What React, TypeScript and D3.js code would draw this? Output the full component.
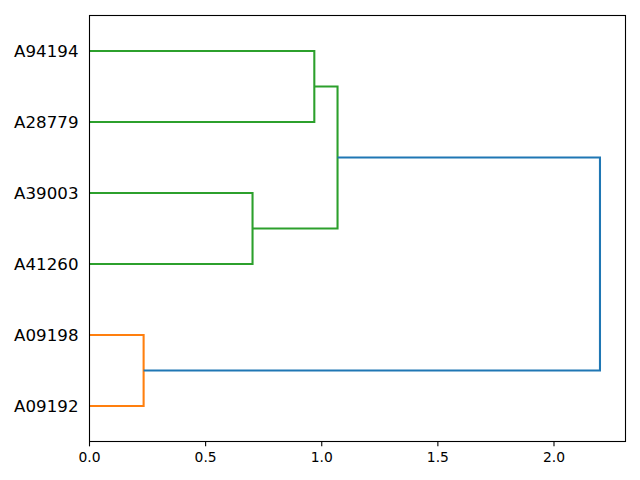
import React, { useEffect } from "react";
import * as d3 from "d3";

// Leaf labels, ordered bottom to top (scipy leaf order)
const leafLabels = ["A09192", "A09198", "A41260", "A39003", "A28779", "A94194"];
// Linkage: each merge joins two nodes (leaves are 0..5, merges are 6..)
const mergeLeft = [1, 3, 5, 8, 9];
const mergeRight = [0, 2, 4, 7, 6];
const mergeHeight = [0.233, 0.702, 0.968, 1.068, 2.198];
const mergeColor = ["#ff7f0e", "#2ca02c", "#2ca02c", "#2ca02c", "#1f77b4"];
const xTicks = [0, 0.5, 1.0, 1.5, 2.0];

const W = 640, H = 480;
const M = { left: 89.5, right: 625.5, top: 15.5, bottom: 441.5 };

export default function App() {
  useEffect(() => {
    document.body.style.margin = "0";
  }, []);

  const x = d3.scaleLinear().domain([0, d3.max(mergeHeight)! * 1.05]).range([M.left, M.right]);
  const y = d3.scaleLinear().domain([0, leafLabels.length * 10]).range([M.bottom, M.top]);

  // node positions
  const nodeY: number[] = leafLabels.map((_, i) => 5 + 10 * i);
  const nodeH: number[] = leafLabels.map(() => 0);
  mergeLeft.forEach((l, k) => {
    const r = mergeRight[k];
    nodeY.push((nodeY[l] + nodeY[r]) / 2);
    nodeH.push(mergeHeight[k]);
  });

  const line = d3.line<[number, number]>().x((d) => x(d[0])).y((d) => y(d[1]));

  const font = "DejaVu Sans, sans-serif";

  return (
    <svg width={W} height={H} style={{ display: "block", position: "absolute", left: 0, top: 0 }}>
      <rect x={0} y={0} width={W} height={H} fill="#fff" />
      {mergeLeft.map((l, k) => {
        const r = mergeRight[k];
        const h = mergeHeight[k];
        const pts: [number, number][] = [
          [nodeH[l], nodeY[l]],
          [h, nodeY[l]],
          [h, nodeY[r]],
          [nodeH[r], nodeY[r]],
        ];
        return (
          <path key={k} d={line(pts)!} fill="none" stroke={mergeColor[k]} strokeWidth={2.08} strokeLinejoin="miter" strokeLinecap="butt" />
        );
      })}
      <rect x={M.left} y={M.top} width={M.right - M.left} height={M.bottom - M.top} fill="none" stroke="#000" strokeWidth={1.1} />
      {leafLabels.map((lab, i) => (
        <text key={lab} x={78.5} y={y(nodeY[i])} dy="0.36em" textAnchor="end" fontFamily={font} fontSize={16.67} fill="#000">
          {lab}
        </text>
      ))}
      {xTicks.map((t) => (
        <g key={t} transform={`translate(${x(t)},${M.bottom})`}>
          <line y1={0} y2={4.86} stroke="#000" strokeWidth={1.1} />
          <text y={9.7} dy="0.76em" textAnchor="middle" fontFamily={font} fontSize={13.89} fill="#000">
            {t.toFixed(1)}
          </text>
        </g>
      ))}
    </svg>
  );
}
